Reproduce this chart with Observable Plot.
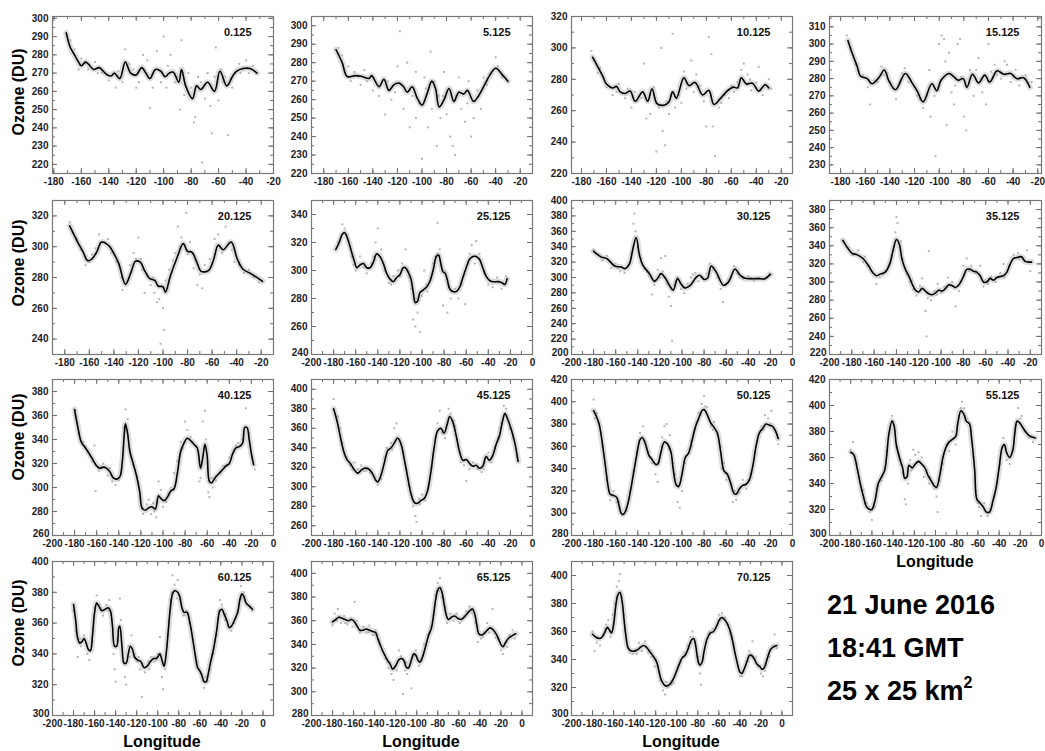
<!DOCTYPE html>
<html><head><meta charset="utf-8">
<script src="https://cdn.jsdelivr.net/npm/d3@7"></script>
<script src="https://cdn.jsdelivr.net/npm/@observablehq/plot@0.6"></script>
<style>
html,body{margin:0;padding:0;background:#fff;overflow:hidden;}
#chart{position:relative;width:1045px;height:751px;overflow:hidden;background:#fff;font-family:"Liberation Sans",Arial,sans-serif;color:#000;}
.panel{position:absolute;}
.ylab{position:absolute;font-weight:bold;font-size:16px;line-height:16px;transform:translate(-50%,-50%) rotate(-90deg);white-space:nowrap;}
.xlab{position:absolute;font-weight:bold;font-size:16px;line-height:16px;transform:translateX(-50%);white-space:nowrap;}
.info{position:absolute;left:827px;font-weight:bold;font-size:27px;line-height:27px;white-space:nowrap;}
.info sup{font-size:16px;line-height:0;vertical-align:0;position:relative;top:-12px;}
</style></head>
<body><div id="chart"></div>
<script>
// ---------- tick labels ----------
const lonTicksA = [-180,-160,-140,-120,-100,-80,-60,-40,-20];
const lonTicksB = [-200,-180,-160,-140,-120,-100,-80,-60,-40,-20,0];
const latitudes = ["0.125","5.125","10.125","15.125","20.125","25.125","30.125","35.125","40.125","45.125","50.125","55.125","60.125","65.125","70.125"];
const yTicks0 = [220,230,240,250,260,270,280,290,300];
const yTicks1 = [220,230,240,250,260,270,280,290,300];
const yTicks2 = [220,240,260,280,300,320];
const yTicks3 = [230,240,250,260,270,280,290,300,310];
const yTicks4 = [240,260,280,300,320];
const yTicks5 = [240,260,280,300,320,340];
const yTicks6 = [200,220,240,260,280,300,320,340,360,380,400];
const yTicks7 = [220,240,260,280,300,320,340,360,380];
const yTicks8 = [260,280,300,320,340,360,380];
const yTicks9 = [260,280,300,320,340,360,380,400];
const yTicks10 = [280,300,320,340,360,380,400,420];
const yTicks11 = [300,320,340,360,380,400,420];
const yTicks12 = [300,320,340,360,380,400];
const yTicks13 = [280,300,320,340,360,380,400];
const yTicks14 = [300,320,340,360,380,400];

// ---------- axis ranges ----------
const lonRanges = [[-181,-20],[-190,-10],[-188,-11],[-189,-17],[-190,-10],[-200,0],[-200,0],[-200,-10],[-200,0],[-200,0],[-200,0],[-200,0],[-200,10],[-200,10],[-200,10]];
const ozoneRanges = [[215,301],[220,305],[220,320],[225,316],[230,330],[240,350],[200,400],[220,390],[260,390],[250,410],[280,420],[300,420],[300,400],[280,410],[300,410]];

// ---------- smoothed lines (longitude, ozone DU) ----------
const line0 = [[-171,292],[-168,284],[-165,280],[-162,276],[-160,274],[-157,276],[-155,275],[-151,272],[-147,273],[-144,271],[-141,269],[-138,268.5],[-136,270],[-132,267],[-128,276],[-124,270],[-120,269],[-116,273],[-113,270],[-110,267],[-106,272],[-102,271],[-99,268],[-96,270],[-93,270.5],[-89,265],[-87,272],[-84,263],[-79,256],[-76,263],[-73,261],[-68,265],[-63,260],[-59,271],[-54,263],[-50,268],[-47,271],[-42,272.5],[-37,272.5],[-32,270]];
const line1 = [[-170,287],[-165,280],[-161,272.5],[-154,273],[-149,272.5],[-143,271.5],[-141,273],[-135,267],[-131,271],[-127,265],[-123,268],[-119,269],[-115,267],[-112,264],[-108,267],[-104,261],[-100,257],[-96,263],[-92,270],[-89,266],[-86,256],[-82,260],[-78,266],[-74,259],[-70,264],[-66,263],[-63,265],[-58,259],[-54,262],[-49,268],[-45,273],[-40,277],[-34,273],[-30,270]];
const line2 = [[-171,294],[-167,288],[-163,282],[-160,277],[-155,274.5],[-152,275.5],[-149,272],[-145,271],[-141,272.5],[-137,266],[-131,272],[-127,266],[-123.5,274],[-119.5,264.5],[-114,263.5],[-110,265.5],[-107,272],[-104,268],[-98,281],[-94,276],[-89,278],[-83,270],[-78,273],[-74,264],[-69,267.5],[-64,272],[-58.5,275],[-55,274.5],[-52,281],[-48,277],[-43,277.5],[-38,272.5],[-33,276.5],[-30,274.5]];
const line3 = [[-174,302],[-170.5,294.5],[-166.5,287],[-164,281.5],[-158.5,280],[-154.5,277],[-149,280.5],[-144.5,285],[-141,279],[-135.5,273.5],[-127.5,283],[-122,277.5],[-118,273],[-113,266.5],[-106,277],[-102,273],[-98.5,279],[-92,283],[-88,281],[-84.5,279],[-80.5,280],[-77.5,275],[-73,282.5],[-68,277.5],[-63,282],[-59,278],[-53,284.5],[-47.5,282.5],[-42,283],[-37,280],[-31.5,280.5],[-26.5,275]];
const line4 = [[-176,313.5],[-169.5,303],[-165,296.5],[-161.5,291],[-158,292],[-154,296.5],[-150,303],[-144,300.5],[-139,294],[-136,289],[-130.5,275.5],[-126,283.5],[-122.5,290.5],[-118.5,290],[-115,284.5],[-111,279.5],[-106.5,278],[-104,274.5],[-100,274],[-98,270.5],[-94,281],[-88.5,293],[-83.5,302],[-80,297],[-76.5,296.5],[-72,289],[-69,284],[-63,284.5],[-59,291],[-55,301],[-51,298],[-44.5,303],[-39.5,292],[-35,285.5],[-28.5,282.5],[-21.5,279],[-19,277.5]];
const line5 = [[-178,315],[-175,320],[-172,326],[-170,327],[-167,322],[-164,314],[-161,306],[-159,302],[-156,304],[-153,305],[-150,302],[-147,302],[-144,306],[-141,312],[-138,310],[-135,305],[-132,298],[-129,294],[-126,292],[-123,295],[-120,297],[-117,302],[-115,302],[-112,298],[-110,294],[-108,285],[-106,277],[-104,278],[-102,284],[-99,286],[-96,288],[-93,292],[-90,300],[-87,310],[-85,311],[-83,305],[-81,299],[-79,298],[-77,293],[-75,287],[-72,285],[-69,285],[-66,288],[-63,295],[-60,302],[-57,308],[-54,310],[-51,310],[-48,308],[-45,302],[-42,296],[-39,293],[-36,292],[-33,292],[-30,292],[-27,291],[-25,290],[-23,294]];
const line6 = [[-180,334],[-173,326.5],[-168,324.5],[-161,315],[-155,313.5],[-151.5,311.5],[-147.5,318],[-144.5,337],[-141.5,352],[-138.5,329],[-135.5,316],[-129.5,305],[-125,295],[-122,299],[-119,305],[-115,299],[-111,289],[-108,283.5],[-104,298.5],[-101,292],[-97.5,286.5],[-93,289],[-87,300.5],[-84,303],[-80,297.5],[-77,299],[-73.5,315],[-69,307],[-62.5,290],[-58,294],[-52,311],[-47.5,303],[-43,299],[-37,298.5],[-31,298.5],[-25,298.5],[-20,304]];
const line7 = [[-188,346],[-184,338],[-180,332],[-175,330],[-170,326],[-165,318],[-161,310],[-158,307],[-154,309],[-150,311],[-146,320],[-143,335],[-140,347],[-137.5,342],[-135,325],[-132,314],[-129,307],[-126,298],[-123,291],[-120,289],[-117,293],[-114,290],[-111,287],[-108,286],[-105,288],[-102,291],[-99,290],[-96,293],[-93,297],[-90,296],[-87,294],[-84,297],[-80,306],[-77,314],[-74,314],[-71,312],[-68,311],[-65,307],[-62,300],[-59,300],[-56,304],[-53,302],[-50,305],[-47,306],[-44,307],[-41,311],[-38,320],[-35,326],[-32,327],[-29,328],[-27,327],[-25,323],[-22,322],[-19,322]];
const line8 = [[-180,365],[-177,350],[-174,338],[-171,334],[-168,330],[-164,324],[-160,318],[-157,316],[-154,317],[-151,316],[-148,313],[-145,308],[-142,307],[-139,309],[-137,320],[-135,345],[-134,353],[-132,345],[-130,330],[-127,320],[-124,310],[-121,296],[-119,283],[-116,281],[-113,283],[-110,284],[-107,282],[-104,293],[-102,291],[-99,289],[-96,292],[-93,297],[-90,299],[-87,312],[-84,330],[-81,337],[-78,341],[-75,339],[-72,336],[-69,333],[-66,316],[-64,325],[-62,336],[-60,326],[-58,305],[-56,304],[-53,308],[-50,311],[-46,315],[-43,318],[-40,320],[-37,328],[-34,333],[-31,334],[-28,337],[-26,350],[-24,350],[-22,340],[-20,328],[-18,319]];
const line9 = [[-180,380],[-177,368],[-174,352],[-171,337],[-168,328],[-165,324],[-161,317],[-158,314],[-155,317],[-152,319],[-148,318],[-145,314],[-142,307],[-140,305],[-137,312],[-134,325],[-131,337],[-128,340],[-125,345],[-122,350],[-119,344],[-116,328],[-113,310],[-110,293],[-107,284],[-104,283],[-101,286],[-98,288],[-95,296],[-92,315],[-89,340],[-86,357],[-83,360],[-80,355],[-77,365],[-75,372],[-72,366],[-69,352],[-66,336],[-63,327],[-60,328],[-57,324],[-54,321],[-51,322],[-48,319],[-45,321],[-42,331],[-39,327],[-36,332],[-33,343],[-30,352],[-27,368],[-25,375],[-22,368],[-19,358],[-16,345],[-13,326]];
const line10 = [[-180,392],[-178,388],[-175,380],[-172,362],[-169,340],[-167,325],[-165,317],[-162,316],[-159,314],[-157,307],[-155,300],[-153,299],[-150,305],[-147,318],[-144,335],[-141,352],[-138,366],[-136,368],[-133,362],[-130,352],[-127,348],[-124,344],[-122,344],[-119,355],[-116,364],[-113,362],[-110,355],[-108,340],[-105,325],[-103,324],[-100,335],[-97,350],[-94,354],[-91,365],[-88,377],[-85,385],[-82,392],[-80,393],[-77,388],[-74,381],[-71,377],[-68,372],[-65,355],[-62,338],[-59,335],[-56,327],[-53,318],[-51,317],[-48,322],[-45,325],[-42,326],[-39,330],[-36,342],[-33,360],[-30,372],[-27,376],[-24,380],[-21,379],[-18,378],[-15,373],[-13,367]];
const line11 = [[-180,364],[-177,362],[-174,352],[-171,340],[-168,330],[-165,322],[-162,320],[-160,320],[-157,327],[-154,340],[-151,345],[-148,350],[-146,362],[-144,378],[-141,388],[-139,384],[-137,370],[-134,360],[-131,352],[-129,344],[-127,345],[-125,354],[-122,352],[-119,355],[-116,357],[-113,355],[-110,352],[-107,346],[-104,342],[-101,338],[-99,337],[-96,346],[-93,360],[-90,368],[-87,372],[-84,374],[-81,376],[-79,386],[-76,396],[-73,393],[-71,388],[-68,386],[-66,375],[-63,350],[-61,328],[-58,325],[-55,322],[-52,318],[-49,318],[-46,326],[-43,336],[-40,352],[-37,368],[-35,370],[-33,364],[-30,360],[-27,366],[-25,380],[-23,388],[-20,386],[-16,381],[-12,377],[-6,375]];
const line12 = [[-180,372],[-178,362],[-176,350],[-174,347],[-172,348],[-170,350],[-168,347],[-166,343],[-164,342],[-162,352],[-160,367],[-158,373],[-156,371],[-153,368],[-150,369],[-147,370],[-145,368],[-143,358],[-141,345],[-139,345],[-137,357],[-136,358],[-134,345],[-132,334],[-130,334],[-128,340],[-126,345],[-124,343],[-122,338],[-119,336],[-116,335],[-113,331],[-110,332],[-107,335],[-104,337],[-101,337],[-98,340],[-96,336],[-94,332],[-92,340],[-90,355],[-88,370],[-86,379],[-84,381],[-81,380],[-79,377],[-77,370],[-75,367],[-72,367],[-70,362],[-68,355],[-65,342],[-62,331],[-60,329],[-58,326],[-56,322],[-54,322],[-52,327],[-50,334],[-47,343],[-44,355],[-41,368],[-39,369],[-37,366],[-34,361],[-32,357],[-30,358],[-27,362],[-24,367],[-22,375],[-20,379],[-18,377],[-16,373],[-13,371],[-10,369]];
const line13 = [[-180,359],[-177,361],[-174,363],[-171,362],[-168,361],[-165,360],[-162,361],[-160,360],[-157,356],[-154,352],[-151,352],[-148,353],[-145,352],[-142,351],[-139,350],[-137,345],[-134,338],[-131,332],[-128,327],[-125,323],[-123,319],[-120,322],[-117,327],[-114,328],[-112,326],[-110,321],[-108,320],[-105,327],[-103,332],[-101,331],[-99,327],[-97,325],[-95,328],[-92,337],[-89,347],[-86,354],[-84,365],[-82,378],[-80,386],[-78,388],[-76,384],[-74,374],[-72,365],[-70,361],[-67,363],[-64,364],[-61,362],[-58,361],[-55,363],[-52,366],[-49,369],[-47,370],[-45,366],[-43,357],[-41,349],[-38,348],[-35,350],[-32,353],[-30,354],[-27,352],[-24,348],[-22,344],[-20,340],[-18,338],[-16,341],[-13,345],[-10,347],[-6,349]];
const line14 = [[-180,358],[-177,356],[-174,355],[-171,356],[-168,360],[-166,363],[-164,361],[-162,359],[-160,365],[-158,378],[-156,386],[-154,388],[-152,382],[-150,368],[-148,355],[-146,348],[-143,346],[-140,346],[-137,347],[-134,349],[-131,350],[-128,348],[-125,345],[-122,342],[-119,338],[-117,332],[-115,326],[-112,322],[-110,321],[-107,322],[-104,325],[-101,330],[-98,336],[-95,341],[-92,343],[-89,348],[-86,354],[-84,355],[-82,350],[-80,340],[-78,336],[-76,338],[-74,346],[-71,355],[-68,359],[-65,360],[-62,364],[-59,369],[-57,370],[-54,368],[-51,364],[-48,357],[-45,346],[-42,336],[-40,331],[-38,330],[-36,333],[-33,339],[-31,343],[-29,343],[-26,340],[-24,337],[-21,335],[-19,333],[-17,334],[-15,338],[-13,343],[-11,347],[-8,349],[-5,350]];

// ---------- individual retrievals (longitude, ozone DU) ----------
const pts0 = [[-100,290],[-87,288],[-62,284],[-78,243],[-77,246],[-72,221],[-65,237],[-53,236],[-110,251],[-88,250],[-128,283],[-135,262],[-120,262],[-105,282],[-95,280],[-115,280],[-60,255],[-40,277],[-45,275],[-165,283],[-160,278],[-150,276],[-140,266],[-145,270],[-125,275],[-118,265],[-108,262],[-98,262],[-92,265],[-85,258],[-82,270],[-75,268],[-70,256],[-68,270],[-57,265],[-50,262],[-48,270],[-42,273],[-38,270],[-35,274],[-155,272],[-130,265],[-112,277],[-102,265],[-80,262],[-66,252],[-58,272],[-63,268],[-168,288],[-162,272],[-148,270],[-133,271],[-122,272],[-97,274],[-90,268],[-73,265],[-55,268],[-44,270]];
const pts1 = [[-118,297],[-93,286],[-100,228],[-88,235],[-95,245],[-77,240],[-75,235],[-73,230],[-60,240],[-65,248],[-85,250],[-110,245],[-105,250],[-115,255],[-125,260],[-130,252],[-135,262],[-140,265],[-145,270],[-150,268],[-155,275],[-160,278],[-165,284],[-168,288],[-120,278],[-112,280],[-105,275],[-98,272],[-90,270],[-82,275],[-70,272],[-62,270],[-55,265],[-50,272],[-45,274],[-40,283],[-38,278],[-35,272],[-30,270],[-52,255],[-58,250],[-68,255],[-80,252],[-102,258],[-108,262],[-92,255],[-86,262],[-158,270],[-147,276],[-128,270],[-122,264],[-97,266],[-83,262],[-72,262],[-63,258],[-47,268]];
const pts2 = [[-172,298],[-165,287],[-160,275],[-155,270],[-150,277],[-145,268],[-140,262],[-135,266],[-130,290],[-128,255],[-125,258],[-122,275],[-118,262],[-115,247],[-113,238],[-120,234],[-116,300],[-110,258],[-107,309],[-105,262],[-102,270],[-98,285],[-95,278],[-92,292],[-88,283],[-85,276],[-82,266],[-80,250],[-78,307],[-76,296],[-75,250],[-73,231],[-70,262],[-65,270],[-62,268],[-58,272],[-55,278],[-52,286],[-50,290],[-47,283],[-44,273],[-40,278],[-38,288],[-35,270],[-30,280],[-28,274],[-137,272],[-132,268],[-100,265],[-90,272],[-68,265],[-167,284],[-152,272],[-143,274],[-112,266],[-96,274],[-60,276],[-45,280]];
const pts3 = [[-175,305],[-172,298],[-168,288],[-162,282],[-158,275],[-156,265],[-150,278],[-147,287],[-142,283],[-138,275],[-135,268],[-132,278],[-128,286],[-125,278],[-120,275],[-116,268],[-113,263],[-110,270],[-107,258],[-104,270],[-103,235],[-100,300],[-98,305],[-96,303],[-94,253],[-92,295],[-90,272],[-88,265],[-85,300],[-83,303],[-80,258],[-78,250],[-75,285],[-72,270],[-68,292],[-65,272],[-62,265],[-60,300],[-58,284],[-55,288],[-50,280],[-47,290],[-45,288],[-42,278],[-38,285],[-35,276],[-30,282],[-25,278],[-108,285],[-95,290],[-87,276],[-70,285],[-165,284],[-153,279],[-145,282],[-130,283],[-118,270],[-111,268],[-101,275],[-82,281],[-66,280],[-53,282],[-40,281]];
const pts4 = [[-176,316],[-170,305],[-163,288],[-158,295],[-152,308],[-148,303],[-142,296],[-138,290],[-133,272],[-130,278],[-127,288],[-124,296],[-120,306],[-117,285],[-113,282],[-110,275],[-107,270],[-105,264],[-103,266],[-102,237],[-100,260],[-99,246],[-98,278],[-95,285],[-90,296],[-88,313],[-85,306],[-81,322],[-78,303],[-75,286],[-72,275],[-70,282],[-66,288],[-62,292],[-58,305],[-55,308],[-52,296],[-49,313],[-46,302],[-42,290],[-38,288],[-34,283],[-30,285],[-26,280],[-22,277],[-134,280],[-115,270],[-92,291],[-68,273],[-167,298],[-160,290],[-155,299],[-145,305],[-128,280],[-122,292],[-118,292],[-108,280],[-86,300],[-80,295],[-64,284],[-56,300],[-44,298]];
const pts5 = [[-176,320],[-172,333],[-168,325],[-164,310],[-160,300],[-156,310],[-150,298],[-146,305],[-142,320],[-140,330],[-137,315],[-134,300],[-130,291],[-126,296],[-122,300],[-118,305],[-115,315],[-112,295],[-110,287],[-108,265],[-106,260],[-104,270],[-102,256],[-100,282],[-98,300],[-95,285],[-92,295],[-88,310],[-86,334],[-84,315],[-81,275],[-79,300],[-77,270],[-74,280],[-70,287],[-67,280],[-64,290],[-61,276],[-58,305],[-55,318],[-51,321],[-48,312],[-44,298],[-40,290],[-36,288],[-32,295],[-28,287],[-24,296],[-96,290],[-90,305],[-170,330],[-162,304],[-153,302],[-144,310],[-128,290],[-120,296],[-113,300],[-105,280],[-86,312],[-82,302],[-73,285],[-57,312],[-52,305],[-30,292]];
const pts6 = [[-180,336],[-176,330],[-172,322],[-168,328],[-164,312],[-160,318],[-156,308],[-152,306],[-149,315],[-146,330],[-144,370],[-143,383],[-142,360],[-140,340],[-137,325],[-134,312],[-130,303],[-127,278],[-125,290],[-122,310],[-119,325],[-117,308],[-114,292],[-112,275],[-110,263],[-109,218],[-107,290],[-104,300],[-101,285],[-98,280],[-95,292],[-92,300],[-88,306],[-85,295],[-82,300],[-78,305],[-75,318],[-71,310],[-68,300],[-65,285],[-63,268],[-60,292],[-56,300],[-53,315],[-50,305],[-45,298],[-40,302],[-35,296],[-30,300],[-25,298],[-21,305],[-115,328],[-174,328],[-158,312],[-138,330],[-128,300],[-120,300],[-106,295],[-90,304],[-80,298],[-72,312],[-58,297],[-48,300],[-38,298]];
const pts7 = [[-188,345],[-183,338],[-178,330],[-174,335],[-170,322],[-166,318],[-162,312],[-158,298],[-155,305],[-150,312],[-146,320],[-143,335],[-141,355],[-140,372],[-139,365],[-137,340],[-134,325],[-131,308],[-128,300],[-125,292],[-122,285],[-119,296],[-117,304],[-114,268],[-113,240],[-112,282],[-109,280],[-106,290],[-103,298],[-100,288],[-97,295],[-94,305],[-90,300],[-87,273],[-84,290],[-80,318],[-77,326],[-73,318],[-69,310],[-65,318],[-62,295],[-58,298],[-55,306],[-51,300],[-47,310],[-43,305],[-39,318],[-35,330],[-31,332],[-27,325],[-23,335],[-20,312],[-44,320],[-111,334],[-180,330],[-168,328],[-152,308],[-136,345],[-126,302],[-116,292],[-104,286],[-92,296],[-82,300],[-75,312],[-60,302],[-30,325]];
const pts8 = [[-180,360],[-176,345],[-172,338],[-168,330],[-164,322],[-162,335],[-161,297],[-158,314],[-154,320],[-150,310],[-146,305],[-143,302],[-140,306],[-136,350],[-134,365],[-132,357],[-130,332],[-127,320],[-124,310],[-121,292],[-118,278],[-115,286],[-113,290],[-111,278],[-108,280],[-106,275],[-104,305],[-102,298],[-100,284],[-97,288],[-93,300],[-90,312],[-87,322],[-84,338],[-80,355],[-78,348],[-75,342],[-71,335],[-67,305],[-66,308],[-64,355],[-62,364],[-61,340],[-59,296],[-58,292],[-55,300],[-52,306],[-48,312],[-44,318],[-40,325],[-36,330],[-32,337],[-28,340],[-25,366],[-22,345],[-19,325],[-17,315],[-170,334],[-156,318],[-148,316],[-138,312],[-119,282],[-109,287],[-95,295],[-82,333],[-73,338],[-56,308],[-46,318],[-34,335]];
const pts9 = [[-180,390],[-176,372],[-172,345],[-168,330],[-165,322],[-161,325],[-158,318],[-155,322],[-151,316],[-147,314],[-143,310],[-140,302],[-137,308],[-134,330],[-131,338],[-128,345],[-125,360],[-123,365],[-120,348],[-117,335],[-114,318],[-111,300],[-108,280],[-106,270],[-105,264],[-103,288],[-100,292],[-97,286],[-94,300],[-91,320],[-88,350],[-86,365],[-84,378],[-82,355],[-79,350],[-76,380],[-74,375],[-71,368],[-68,348],[-65,325],[-62,322],[-60,306],[-57,318],[-54,325],[-50,318],[-46,315],[-43,325],[-40,335],[-37,325],[-34,340],[-31,350],[-28,365],[-26,383],[-24,380],[-21,360],[-18,350],[-14,330],[-174,360],[-163,318],[-153,316],[-145,312],[-132,340],[-127,338],[-109,288],[-102,282],[-85,358],[-78,362],[-70,362],[-56,322],[-44,318],[-30,360]];
const pts10 = [[-180,402],[-179,385],[-176,382],[-172,360],[-168,330],[-165,312],[-162,320],[-159,310],[-156,305],[-154,298],[-150,302],[-147,320],[-144,338],[-141,355],[-138,372],[-135,378],[-133,365],[-130,355],[-127,345],[-124,335],[-122,328],[-119,360],[-116,378],[-114,380],[-111,370],[-108,345],[-106,335],[-104,310],[-102,305],[-100,320],[-97,345],[-94,357],[-91,360],[-88,375],[-85,390],[-82,398],[-80,405],[-77,395],[-74,378],[-71,382],[-68,370],[-65,360],[-62,345],[-60,330],[-57,330],[-54,310],[-51,312],[-48,318],[-45,330],[-42,322],[-38,335],[-34,355],[-31,370],[-28,378],[-25,388],[-22,385],[-19,392],[-16,375],[-13,362],[-177,390],[-163,315],[-157,310],[-139,365],[-128,350],[-118,368],[-112,358],[-103,326],[-92,365],[-83,388],[-79,396],[-72,375],[-64,340],[-52,320],[-40,330],[-26,375],[-20,380]];
const pts11 = [[-180,366],[-178,372],[-176,358],[-172,345],[-168,335],[-165,325],[-162,318],[-160,312],[-157,322],[-154,338],[-151,342],[-148,352],[-146,365],[-143,380],[-141,392],[-139,385],[-137,368],[-134,358],[-131,348],[-129,328],[-128,324],[-126,340],[-124,358],[-121,366],[-119,362],[-116,364],[-113,360],[-111,345],[-108,350],[-105,345],[-102,340],[-99,330],[-98,318],[-96,342],[-93,355],[-90,370],[-87,365],[-84,380],[-81,370],[-78,392],[-75,403],[-73,398],[-70,390],[-67,380],[-64,360],[-62,335],[-59,322],[-57,315],[-54,325],[-51,315],[-48,320],[-45,330],[-42,340],[-39,355],[-36,375],[-33,358],[-30,355],[-27,365],[-24,385],[-22,398],[-19,392],[-16,380],[-12,375],[-8,372],[-174,355],[-163,322],[-150,345],[-140,388],[-133,355],[-123,350],[-118,356],[-106,340],[-101,336],[-88,372],[-80,378],[-76,398],[-60,325],[-50,318],[-34,368],[-26,372],[-20,390]];
const pts12 = [[-180,368],[-178,355],[-176,338],[-173,345],[-170,352],[-167,340],[-165,336],[-163,345],[-160,370],[-158,378],[-155,372],[-152,365],[-149,372],[-146,375],[-144,365],[-142,340],[-141,330],[-140,322],[-138,348],[-136,376],[-135,362],[-133,335],[-131,325],[-130,320],[-128,345],[-125,352],[-122,340],[-120,335],[-117,330],[-115,312],[-112,328],[-109,335],[-106,338],[-103,335],[-100,340],[-98,351],[-96,325],[-95,317],[-93,330],[-90,352],[-88,375],[-86,391],[-84,385],[-81,388],[-79,375],[-76,365],[-73,368],[-70,360],[-67,350],[-64,338],[-61,330],[-58,325],[-56,318],[-53,322],[-50,330],[-47,340],[-44,352],[-41,375],[-39,372],[-36,362],[-33,358],[-30,355],[-27,360],[-24,368],[-21,384],[-18,380],[-15,372],[-12,370],[-174,350],[-162,348],[-154,370],[-147,368],[-139,350],[-127,338],[-118,338],[-108,330],[-102,338],[-87,380],[-82,376],[-74,365],[-62,335],[-54,325],[-42,368],[-35,366],[-20,376],[-10,368]];
const pts13 = [[-180,356],[-178,366],[-175,370],[-172,358],[-169,364],[-166,357],[-163,362],[-161,355],[-159,376],[-157,360],[-154,350],[-151,355],[-148,350],[-145,356],[-142,348],[-139,352],[-136,342],[-133,335],[-130,328],[-127,320],[-124,315],[-122,310],[-119,318],[-117,335],[-115,330],[-113,298],[-111,318],[-109,315],[-107,322],[-105,303],[-103,330],[-101,335],[-98,322],[-96,328],[-93,340],[-90,348],[-87,355],[-84,365],[-82,382],[-80,392],[-78,396],[-76,380],[-73,372],[-71,358],[-68,366],[-65,360],[-62,366],[-59,358],[-56,362],[-53,368],[-50,372],[-47,366],[-44,358],[-42,342],[-39,345],[-36,350],[-33,358],[-31,350],[-28,370],[-26,350],[-23,345],[-20,335],[-18,332],[-15,342],[-12,348],[-9,352],[-7,345],[-176,360],[-168,358],[-156,355],[-146,350],[-140,348],[-128,325],[-121,320],[-110,325],[-100,330],[-88,350],[-79,385],[-74,378],[-60,362],[-48,368],[-37,346],[-25,346],[-14,338]];
const pts14 = [[-180,360],[-178,346],[-176,352],[-173,350],[-170,358],[-167,365],[-165,368],[-163,356],[-161,372],[-159,380],[-157,392],[-155,396],[-154,401],[-152,385],[-150,372],[-148,358],[-145,345],[-142,344],[-139,347],[-136,352],[-133,346],[-130,353],[-127,345],[-124,342],[-121,335],[-118,335],[-116,325],[-113,318],[-111,315],[-108,320],[-105,322],[-102,328],[-99,333],[-96,338],[-93,345],[-90,350],[-87,356],[-85,360],[-82,353],[-80,338],[-78,330],[-77,322],[-75,340],[-72,352],[-69,360],[-66,362],[-63,362],[-60,372],[-57,373],[-54,370],[-51,365],[-48,355],[-45,345],[-42,335],[-40,328],[-37,332],[-34,338],[-31,346],[-28,353],[-25,342],[-23,335],[-20,330],[-18,328],[-15,336],[-12,342],[-9,350],[-7,358],[-5,348],[-175,356],[-168,362],[-162,360],[-146,348],[-138,344],[-129,349],[-120,340],[-110,324],[-103,323],[-94,342],[-86,352],[-79,342],[-70,358],[-58,368],[-46,350],[-38,328],[-30,342],[-16,332]];

// ---------- text ----------
const yTitle = "Ozone (DU)";
const xTitle = "Longitude";
const infoLines = ["21 June 2016", "18:41 GMT", "25 x 25 km"];

// ---------- layout (pixels) ----------
const colLeft = [52, 311, 571, 829];
const colW = [221, 221, 221, 212];
const rowTop = [16, 200, 379, 561];
const rowH = [157, 154, 156, 154];

const lines = [line0,line1,line2,line3,line4,line5,line6,line7,line8,line9,line10,line11,line12,line13,line14];
const points = [pts0,pts1,pts2,pts3,pts4,pts5,pts6,pts7,pts8,pts9,pts10,pts11,pts12,pts13,pts14];
const yTicks = [yTicks0,yTicks1,yTicks2,yTicks3,yTicks4,yTicks5,yTicks6,yTicks7,yTicks8,yTicks9,yTicks10,yTicks11,yTicks12,yTicks13,yTicks14];
const xTicksFor = k => (k <= 4 ? lonTicksA : lonTicksB);

const chart = document.getElementById("chart");
const toRows = arr => arr.map(([lon, o3]) => ({lon, o3}));
const FONT = '"Liberation Sans", Arial, Helvetica, sans-serif';
const TICK = "#6f6f6f";

function drawPanel(k) {
  const r = Math.floor(k / 4), c = k % 4;
  const W = colW[c], H = rowH[r];
  const mL = 36, mR = 4, mT = 4, mB = 22;
  const [x0, x1] = lonRanges[k], [y0, y1] = ozoneRanges[k];
  const xt = xTicksFor(k).filter(v => v >= x0 - 0.01 && v <= x1 + 0.01);
  const yt = yTicks[k];
  // when a tick label sits on both the bottom-left corner, lift the lowest y label above it
  const cornerClash = xt[0] === x0 && yt[0] === y0;
  const ytMain = cornerClash ? yt.slice(1) : yt;
  const ytCorner = cornerClash ? [yt[0]] : [];
  const xMinor = d3.range(Math.ceil(x0 / 10) * 10, x1 + 0.01, 10);
  const yStep = (yt[1] - yt[0]) / 2;
  const yMinor = d3.range(Math.ceil(y0 / yStep) * yStep, y1 + 0.01, yStep);
  const ln = toRows(lines[k]);
  const pts = toRows(points[k]);
  const svg = Plot.plot({
    width: W + mL + mR, height: H + mT + mB,
    marginLeft: mL, marginRight: mR, marginTop: mT, marginBottom: mB,
    x: {domain: [x0, x1], label: null},
    y: {domain: [y0, y1], label: null},
    style: {fontFamily: FONT, fontSize: "10px", fontWeight: "bold", color: "#1c1c28", background: "transparent", overflow: "visible"},
    marks: [
      Plot.line(ln, {x: "lon", y: "o3", curve: "catmull-rom", stroke: "#dcdcdc", strokeWidth: 6, clip: true}),
      Plot.dot(pts, {x: "lon", y: "o3", symbol: "square", r: 1.1, fill: "#b2b2b2", stroke: null, clip: true}),
      Plot.line(ln, {x: "lon", y: "o3", curve: "catmull-rom", stroke: "#000", strokeWidth: 1.6, clip: true}),
      Plot.tickX(xMinor, {x: d => d, insetTop: H - 3, stroke: TICK}),
      Plot.tickX(xMinor, {x: d => d, insetBottom: H - 3, stroke: TICK}),
      Plot.tickX(xt, {x: d => d, insetTop: H - 5, stroke: TICK}),
      Plot.tickX(xt, {x: d => d, insetBottom: H - 5, stroke: TICK}),
      Plot.tickY(yMinor, {y: d => d, insetRight: W - 3, stroke: TICK}),
      Plot.tickY(yMinor, {y: d => d, insetLeft: W - 3, stroke: TICK}),
      Plot.tickY(yt, {y: d => d, insetRight: W - 5, stroke: TICK}),
      Plot.tickY(yt, {y: d => d, insetLeft: W - 5, stroke: TICK}),
      Plot.frame({stroke: "#777", strokeWidth: 1.2}),
      Plot.axisX({ticks: xt, tickSize: 0, tickPadding: 4, tickFormat: d => String(d), label: null}),
      Plot.axisY({ticks: ytMain, tickSize: 0, tickPadding: 4, tickFormat: d => String(d), label: null}),
      Plot.text(ytCorner, {x: null, y: d => d, text: d => String(d), frameAnchor: "left", textAnchor: "end", lineAnchor: "bottom", dx: -3, dy: 1, fontSize: 10, fontWeight: "bold", fill: "#1c1c28"}),
      Plot.text([latitudes[k]], {text: d => d, frameAnchor: "top-right", textAnchor: "end", lineAnchor: "top", dx: -22, dy: 12, fontSize: 11, fontWeight: "bold", fill: "#111"})
    ]
  });
  const wrap = document.createElement("div");
  wrap.className = "panel";
  wrap.style.left = (colLeft[c] - mL) + "px";
  wrap.style.top = (rowTop[r] - mT) + "px";
  wrap.appendChild(svg);
  chart.appendChild(wrap);
}
for (let k = 0; k < 15; k++) drawPanel(k);

// y titles
[92, 263, 437, 623].forEach(y => {
  const d = document.createElement("div");
  d.className = "ylab"; d.textContent = yTitle;
  d.style.left = "19px"; d.style.top = y + "px";
  chart.appendChild(d);
});
// x titles
[[162, 734], [421, 734], [681, 734], [935, 554]].forEach(([x, t]) => {
  const d = document.createElement("div");
  d.className = "xlab"; d.textContent = xTitle;
  d.style.left = x + "px"; d.style.top = t + "px";
  chart.appendChild(d);
});
// info block
[592, 635, 678].forEach((t, i) => {
  const d = document.createElement("div");
  d.className = "info"; d.style.top = t + "px";
  d.textContent = infoLines[i];
  if (i === 2) { const s = document.createElement("sup"); s.textContent = "2"; d.appendChild(s); }
  chart.appendChild(d);
});
</script></body></html>
